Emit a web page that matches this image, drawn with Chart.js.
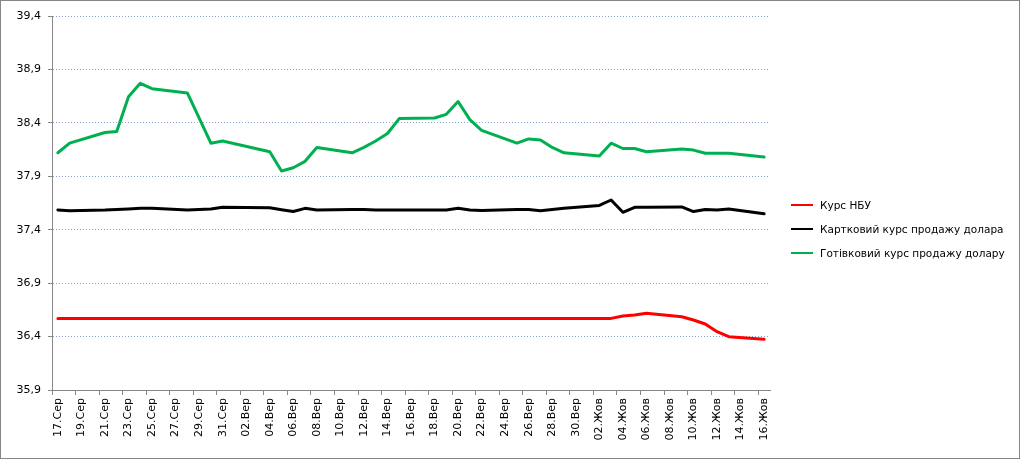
<!DOCTYPE html>
<html>
<head>
<meta charset="utf-8">
<script src="https://cdn.jsdelivr.net/npm/chart.js@4/dist/chart.umd.min.js"></script>
<style>
  body { margin: 0; background: #fff; }
  #wrap { position: relative; width: 1020px; height: 459px; border: 1px solid #868686; box-sizing: border-box; }
  #rates { position: absolute; left: 0; top: 0; }
  #legend { position: absolute; left: 790px; top: 0; font: 10.5px "DejaVu Sans", sans-serif; color: #000; }
  .item { position: absolute; left: 0; height: 14px; line-height: 14px; white-space: nowrap; display: flex; align-items: center; }
  .item i { display: inline-block; width: 22px; height: 2px; margin-right: 7px; }
</style>
</head>
<body>
<div id="wrap">
  <canvas id="rates" width="1018" height="457"></canvas>
  <div id="legend"></div>
</div>
<script>
// dates, 17 Aug - 16 Oct
const labels = [
  "17.Сер", "18.Сер", "19.Сер", "20.Сер", "21.Сер", "22.Сер", "23.Сер", "24.Сер", "25.Сер", "26.Сер",
  "27.Сер", "28.Сер", "29.Сер", "30.Сер", "31.Сер",
  "01.Вер", "02.Вер", "03.Вер", "04.Вер", "05.Вер", "06.Вер", "07.Вер", "08.Вер", "09.Вер", "10.Вер",
  "11.Вер", "12.Вер", "13.Вер", "14.Вер", "15.Вер", "16.Вер", "17.Вер", "18.Вер", "19.Вер", "20.Вер",
  "21.Вер", "22.Вер", "23.Вер", "24.Вер", "25.Вер", "26.Вер", "27.Вер", "28.Вер", "29.Вер", "30.Вер",
  "01.Жов", "02.Жов", "03.Жов", "04.Жов", "05.Жов", "06.Жов", "07.Жов", "08.Жов", "09.Жов", "10.Жов",
  "11.Жов", "12.Жов", "13.Жов", "14.Жов", "15.Жов", "16.Жов"
]

// null = no quote that day (weekends etc), line spans over it
const nbuRate = [
  36.57, 36.57, null, null, 36.57, 36.57, 36.57, 36.57, 36.57, null,
  null, 36.57, null, 36.57, 36.57,
  null, null, null, 36.57, 36.57, 36.57, 36.57, 36.57, null, null,
  36.57, 36.57, 36.57, 36.57, 36.57, null, null, 36.57, 36.57, 36.57,
  36.57, 36.57, null, null, 36.57, 36.57, 36.57, 36.57, 36.57, null,
  null, 36.57, 36.57, 36.593, 36.602, 36.618, null, null, 36.586, 36.555,
  36.518, 36.446, 36.399, null, null, 36.374
]

const cardRate = [
  37.585, 37.578, null, null, 37.585, 37.59, 37.594, 37.6, 37.6, null,
  null, 37.585, null, 37.594, 37.61,
  null, null, null, 37.605, 37.587, 37.57, 37.6, 37.585, null, null,
  37.59, 37.59, 37.585, 37.585, 37.585, null, null, 37.585, 37.585, 37.6,
  37.585, 37.58, null, null, 37.59, 37.59, 37.578, 37.59, 37.6, null,
  null, 37.627, 37.678, 37.563, 37.61, 37.61, null, null, 37.613, 37.57,
  37.59, 37.585, 37.594, null, null, 37.55
]

const cashRate = [
  38.12, 38.21, null, null, 38.31, 38.32, 38.645, 38.77, 38.72, null,
  null, 38.68, null, 38.21, 38.23,
  null, null, null, 38.13, 37.95, 37.98, 38.04, 38.17, null, null,
  38.12, 38.17, 38.23, 38.3, 38.44, null, null, 38.445, 38.48, 38.6,
  38.43, 38.33, null, null, 38.21, 38.25, 38.24, 38.17, 38.12, null,
  null, 38.09, 38.21, 38.16, 38.16, 38.13, null, null, 38.155, 38.145,
  38.115, 38.115, 38.115, null, null, 38.08
]

const yTicks = [35.9, 36.4, 36.9, 37.4, 37.9, 38.4, 38.9, 39.4]

const seriesNames = ["Курс НБУ", "Картковий курс продажу долара", "Готівковий курс продажу долару"]

const font = { family: "DejaVu Sans", size: 11 }

const line = (label, data, color) => ({
  label: label,
  data: data,
  borderColor: color,
  backgroundColor: color,
  borderWidth: 3,
  pointRadius: 0,
  tension: 0,
  spanGaps: true,
  borderJoinStyle: "round",
  borderCapStyle: "round"
})

const chart = new Chart(document.getElementById("rates"), {
  type: "line",
  data: {
    labels: labels,
    datasets: [
      line(seriesNames[0], nbuRate, "#ff0000"),
      line(seriesNames[1], cardRate, "#000000"),
      line(seriesNames[2], cashRate, "#00b050")
    ]
  },
  options: {
    responsive: false,
    animation: false,
    layout: { padding: { left: 10, top: 15, right: 249, bottom: 18 } },
    plugins: {
      legend: { display: false },
      tooltip: { enabled: false }
    },
    scales: {
      x: {
        offset: true,
        grid: {
          offset: true,
          drawOnChartArea: false,
          tickLength: 5,
          tickColor: ctx => ctx.index % 2 === 0 ? "#868686" : "rgba(0,0,0,0)"
        },
        border: { color: "#868686" },
        ticks: {
          autoSkip: false,
          maxRotation: 90,
          minRotation: 90,
          padding: 3,
          color: "#000",
          font: font,
          callback: (v, i) => i % 2 === 0 ? labels[i] : ""
        },
        afterFit: s => { s.height = 50 }
      },
      y: {
        min: yTicks[0],
        max: yTicks[yTicks.length - 1],
        afterBuildTicks: s => { s.ticks = yTicks.map(v => ({ value: v })) },
        grid: {
          color: "#8fa9d9",
          tickColor: "#868686",
          tickLength: 4
        },
        border: { color: "#868686", dash: [1, 2] },
        ticks: {
          padding: 7,
          color: "#000",
          font: font,
          callback: v => v.toFixed(1).replace(".", ",")
        },
        afterFit: s => { s.width = 41 }
      }
    }
  }
})

// legend on the right
const legend = document.getElementById("legend")
chart.data.datasets.forEach((ds, i) => {
  const row = document.createElement("div")
  row.className = "item"
  row.style.top = (197 + i * 24) + "px"
  row.innerHTML = '<i style="background:' + ds.borderColor + '"></i><span>' + ds.label + "</span>"
  legend.appendChild(row)
})
</script>
</body>
</html>
